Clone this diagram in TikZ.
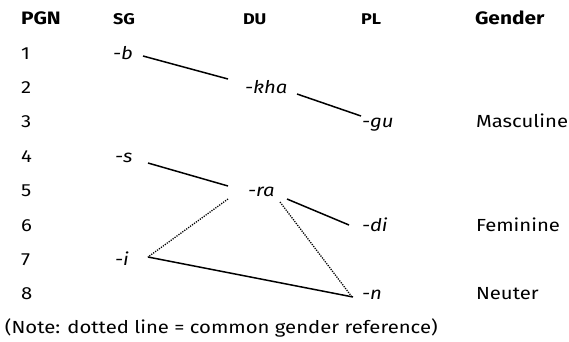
\documentclass[tikz,border=0pt]{standalone}
\usepackage{fontspec}
\setmainfont[FakeStretch=1.16]{Fira Sans}
\begin{document}
\begin{tikzpicture}[x=1pt,y=-1pt,
  txt/.style={anchor=base west,inner sep=0pt,outer sep=0pt,font=\fontsize{17.5}{20}\selectfont},
  hd/.style={anchor=base west,inner sep=0pt,outer sep=0pt,font=\fontsize{18}{20}\selectfont\bfseries},
  shd/.style={anchor=base west,inner sep=0pt,outer sep=0pt,font=\fontsize{15.5}{17}\selectfont\bfseries},
  suf/.style={txt,font=\fontsize{17.5}{20}\selectfont\itshape},
  link/.style={line width=1.5pt},
  cgl/.style={line width=1.3pt,dash pattern=on 1.2pt off 1.2pt}]
\useasboundingbox (0,0) rectangle (569,341);
% headers
\node[hd]  (hpgn) at (21,24) {PGN};
\node[shd] (hsg)  at (113,24) {SG};
\node[shd] (hdu)  at (243,24) {DU};
\node[shd] (hpl)  at (361,24) {PL};
\node[hd]  (hgen) at (475,24) {Gender};
% row numbers
\foreach \k in {1,...,8}{
  \node[txt] (n\k) at (21,{59+34.4*(\k-1)}) {\k};
}
% suffixes
\node[suf] (b)   at (113,59) {-b};
\node[suf] (kha) at (245,93.4) {-kha};
\node[suf] (gu)  at (362,127.8) {-gu};
\node[suf] (s)   at (115,162.2) {-s};
\node[suf] (ra)  at (248,196.6) {-ra};
\node[suf] (di)  at (362,231) {-di};
\node[suf] (i)   at (115,265.4) {-i};
\node[suf] (n)   at (362,299.8) {-n};
% genders
\node[txt] (masc) at (476,127.8) {Masculine};
\node[txt] (fem)  at (476,231) {Feminine};
\node[txt] (neut) at (476,299.8) {Neuter};
% note
\node[txt] (note) at (5,333) {(Note: dotted line = common gender reference)};
% connectors
\draw[link] ([shift={(30,-3)}]b.base west) -- ([shift={(-17,-14.4)}]kha.base west);
\draw[link] ([shift={(52,0.6)}]kha.base west) -- ([shift={(-1,-11.8)}]gu.base west);
\draw[link] ([shift={(33,0.8)}]s.base west) -- ([shift={(-20,-10.6)}]ra.base west);
\draw[link] ([shift={(39,2.4)}]ra.base west) -- ([shift={(-13,-6)}]di.base west);
\draw[cgl] ([shift={(-20,2.4)}]ra.base west) -- ([shift={(33,-8.4)}]i.base west);
\draw[cgl] ([shift={(32,5.4)}]ra.base west) -- ([shift={(-10,-2.8)}]n.base west);
\draw[link] ([shift={(33,-8.4)}]i.base west) -- ([shift={(-9,-2.8)}]n.base west);
\end{tikzpicture}
\end{document}
